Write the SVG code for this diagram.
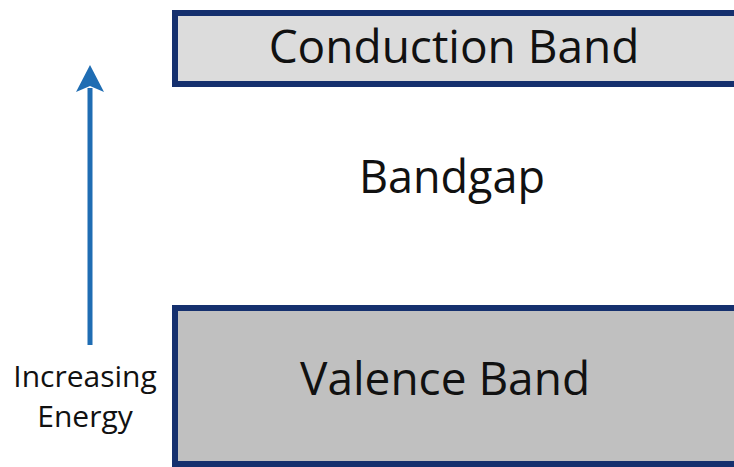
<svg xmlns="http://www.w3.org/2000/svg" width="734" height="467" viewBox="0 0 734 467">
  <style>
    .band { stroke: #15306e; stroke-width: 6; }
    .label { font-family: "Open Sans", "Liberation Sans", sans-serif; fill: #111; text-anchor: middle; }
    .axis { fill: #1f6db3; }
  </style>
  <rect width="734" height="467" fill="#ffffff"/>

  <g id="conduction-band">
    <rect class="band" x="175" y="13" width="575" height="71" fill="#dcdcdc"/>
    <text class="label" x="454" y="63" font-size="46">Conduction Band</text>
  </g>

  <g id="bandgap">
    <text class="label" x="452" y="193" font-size="45">Bandgap</text>
  </g>

  <g id="valence-band">
    <rect class="band" x="175" y="308" width="575" height="156" fill="#c0c0c0"/>
    <text class="label" x="445" y="395" font-size="46">Valence Band</text>
  </g>

  <g id="energy-axis">
    <rect class="axis" x="87.5" y="88" width="5" height="257"/>
    <path class="axis" d="M90,65 L104,92 L90,86 L76,92 Z"/>
    <text class="label" x="85" y="387" font-size="30">Increasing</text>
    <text class="label" x="85" y="427" font-size="30">Energy</text>
  </g>
</svg>
